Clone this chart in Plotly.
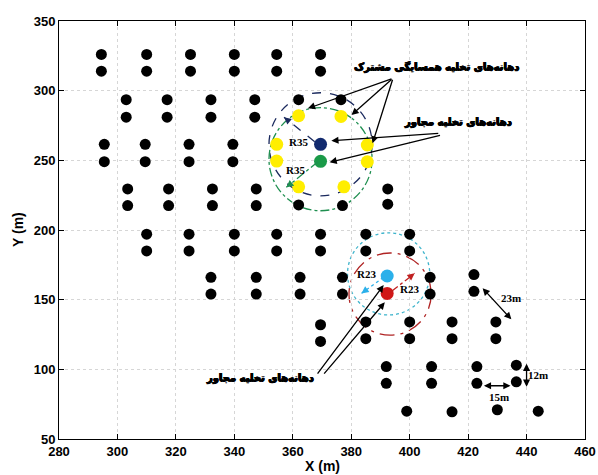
import math
import plotly.graph_objects as go

# ---- layout constants ----
W, H = 598, 475
ML, MR, MT, MB = 59, 13, 21, 36
X_RANGE = [280, 460]
Y_RANGE = [50, 350]
PX_X = (W - ML - MR) / (X_RANGE[1] - X_RANGE[0])   # pixels per metre, x
PX_Y = (H - MT - MB) / (Y_RANGE[1] - Y_RANGE[0])   # pixels per metre, y
ASPECT = PX_Y / PX_X

# ---- drain holes (black) ----
holes_x = [
    294.5, 294.5, 310, 310, 325, 325, 340, 340, 354.5, 354.5, 369.5, 369.5,
    303, 303, 317, 317, 332, 332, 347, 347, 362, 376.5,
    295.5, 295.5, 309.5, 309.5, 324.5, 324.5, 339.5, 339.5,
    303.5, 303.5, 317.5, 317.5, 332.5, 332.5, 347.5, 347.5, 362, 377, 392.5, 392.5,
    310, 310, 324.5, 324.5, 340, 340, 354.5, 354.5, 369.5, 369.5, 385, 385, 400, 400,
    332, 332, 347.5, 347.5, 362.5, 362.5, 377, 377, 407, 407, 422, 422,
    369.5, 369.5, 385, 385, 400, 400, 414.5, 414.5, 429.5, 429.5,
    392, 392, 407.5, 407.5, 423, 423, 436.5, 436.5,
    399, 414.5, 430, 444,
]
holes_y = [
    326, 314, 326, 314, 326, 314, 326, 314, 326, 314, 326, 314,
    293.5, 281, 293.5, 281, 293.5, 281, 293.5, 281, 293.5, 293.5,
    261.5, 249, 261.5, 249, 261.5, 249, 261.5, 249,
    229.5, 217.5, 229.5, 217.5, 229.5, 217.5, 229.5, 217.5, 218, 217.5, 229.5, 218.5,
    197, 185, 197, 185, 197, 185, 197, 185, 197, 185, 197, 185, 197, 185,
    166, 154, 166, 154, 166, 154, 166, 154, 166, 154, 168, 156,
    132, 120, 134, 122, 134, 122, 134, 122, 134, 122,
    102, 90, 102, 90, 102, 90, 103, 91,
    70, 69.5, 71, 70,
]

# shared-neighbourhood holes (yellow)
shared_x = [362, 376.5, 354.5, 354.5, 385.5, 385.5, 362, 377.5]
shared_y = [282, 281.5, 261.5, 249.5, 261, 249, 231, 231]

# focus holes of the two clusters
blue_hole = (369.5, 261.5)
green_hole = (369.5, 249.3)
cyan_hole = (392.3, 167)
red_hole = (392.3, 154.5)

# influence radii (m, vertical scale)
R_UPPER = 37
R_LOWER = 29.5

LBL_SHARED = "دهانه\u200cهای تخلیه همسایگی مشترک"
LBL_ADJ = "دهانه\u200cهای تخلیه مجاور"

fig = go.Figure()

fig.add_trace(go.Scatter(x=holes_x, y=holes_y, mode="markers",
                         marker=dict(size=11, color="black"), hoverinfo="skip"))
fig.add_trace(go.Scatter(x=shared_x, y=shared_y, mode="markers",
                         marker=dict(size=13, color="#ffee00"), hoverinfo="skip"))
for (hx, hy), col in [(blue_hole, "#122a6e"), (green_hole, "#1a9a48"),
                      (cyan_hole, "#2bb0ea"), (red_hole, "#d01818")]:
    fig.add_trace(go.Scatter(x=[hx], y=[hy], mode="markers",
                             marker=dict(size=13, color=col), hoverinfo="skip"))

# influence circles
def circle(center, r, color, dash):
    cx, cy = center
    rx = r * ASPECT
    fig.add_shape(type="circle", xref="x", yref="y",
                  x0=cx - rx, x1=cx + rx, y0=cy - r, y1=cy + r,
                  line=dict(color=color, width=1.3, dash=dash), layer="below")

circle(blue_hole, R_UPPER, "#1b2a5e", "dash")
circle((green_hole[0], green_hole[1] + 1.5), R_UPPER, "#1f8f50", "dashdot")
circle((cyan_hole[0] + 0.5, cyan_hole[1] + 1.5), R_LOWER, "#3fb4cc", "dot")
circle((red_hole[0] + 1.0, red_hole[1] - 0.5), R_LOWER, "#b02424", "longdashdot")

# radius arrows: styled shaft plus an arrowhead
def radius_arrow(tail, head, color, dash):
    fig.add_shape(type="line", xref="x", yref="y",
                  x0=tail[0], y0=tail[1], x1=head[0], y1=head[1],
                  line=dict(color=color, width=1.3, dash=dash))
    dxp = (head[0] - tail[0]) * PX_X
    dyp = -(head[1] - tail[1]) * PX_Y
    n = math.hypot(dxp, dyp)
    fig.add_annotation(x=head[0], y=head[1], ax=-dxp / n * 6, ay=-dyp / n * 6,
                       text="", showarrow=True, arrowhead=2, arrowsize=1.1,
                       arrowwidth=1.3, arrowcolor=color)

radius_arrow((367.5, 263.4), (357.0, 280.9), "#1b2a5e", "dash")
radius_arrow((368.6, 249.0), (357.8, 230.6), "#1f8f50", "dashdot")
radius_arrow((391.0, 166.0), (383.5, 154.5), "#2bb0ea", "dot")
radius_arrow((393.5, 155.5), (401.7, 168.9), "#c02020", "dashdot")

# pointer arrows from the labels
def pointer(tail, head):
    fig.add_annotation(x=head[0], y=head[1], ax=tail[0], ay=tail[1],
                       axref="x", ayref="y", xref="x", yref="y", text="",
                       showarrow=True, arrowhead=2, arrowsize=1.1,
                       arrowwidth=1.3, arrowcolor="black")

for head in [(365.2, 287.3), (380.1, 282.5), (387.3, 262.2)]:
    pointer((394.3, 308.9), head)
pointer((410.3, 269.4), (373.2, 264.1))
pointer((410.9, 268.2), (372.6, 248.6))
pointer((368.1, 95.9), (391.1, 160.5))
pointer((370.3, 95.9), (391.5, 148.1))

# spacing dimensions
def dimension(p0, p1):
    fig.add_annotation(x=p1[0], y=p1[1], ax=p0[0], ay=p0[1],
                       axref="x", ayref="y", xref="x", yref="y", text="",
                       showarrow=True, arrowhead=2, startarrowhead=2,
                       arrowside="end+start", arrowsize=1.1, startarrowsize=1.1,
                       arrowwidth=1.3, arrowcolor="black")

dimension((424.5, 159.3), (434.8, 135.9))
dimension((424.9, 88.2), (434.5, 88.2))
dimension((440.0, 105.0), (440.0, 87.5))

HEAVY = "0.6px 0 0 black, -0.6px 0 0 black, 0 0.5px 0 black, 0 -0.3px 0 black"

def label(x, y, text, size, family, bold=True, shadow="none", xanchor="center"):
    fig.add_annotation(x=x, y=y, xref="x", yref="y", text=text, showarrow=False,
                       xanchor=xanchor, yanchor="middle",
                       font=dict(size=size, family=family, color="black",
                                 weight="bold" if bold else "normal",
                                 shadow=shadow))

serif = "Liberation Serif"
label(361.9, 263.4, "R35", 11, serif)
label(360.9, 243.0, "R35", 11, serif)
label(385.2, 168.4, "R23", 11, serif)
label(400.0, 157.4, "R23", 11, serif)
label(434.6, 150.9, "23m", 11, serif)
label(430.5, 79.9, "15m", 11, serif)
label(444.0, 95.9, "12m", 11, serif)

persian = "DejaVu Sans"
label(409.1, 317.2, LBL_SHARED, 10, persian, shadow=HEAVY)
label(416.6, 277.7, LBL_ADJ, 10, persian, shadow=HEAVY)
label(348.7, 93.7, LBL_ADJ, 10, persian, shadow=HEAVY)

# axis titles
fig.add_annotation(x=0.5, y=-(466 - (H - MB)) / (H - MT - MB), xref="paper", yref="paper",
                   text="X (m)", showarrow=False, yanchor="middle",
                   font=dict(size=14, family="Liberation Sans", color="black", weight="bold"))
fig.add_annotation(x=-(ML - 18) / (W - ML - MR), y=((H - MB) - 230) / (H - MT - MB),
                   xref="paper", yref="paper", text="Y (m)", showarrow=False,
                   textangle=-90, xanchor="center", yanchor="middle",
                   font=dict(size=14, family="Liberation Sans", color="black", weight="bold"))

axis_common = dict(
    showline=True, linecolor="black", linewidth=1, mirror="ticks",
    ticks="inside", ticklen=5, tickcolor="black",
    showgrid=True, gridcolor="#d6d6d6", griddash="dot", gridwidth=1,
    zeroline=False, automargin=False,
    tickfont=dict(size=13, family="Liberation Sans", color="black", weight="bold"),
)

fig.update_layout(
    width=W, height=H,
    margin=dict(l=ML, r=MR, t=MT, b=MB),
    paper_bgcolor="white", plot_bgcolor="white",
    showlegend=False,
    xaxis=dict(range=X_RANGE, dtick=20, tick0=280, **axis_common),
    yaxis=dict(range=Y_RANGE, dtick=50, tick0=50, **axis_common),
)

fig.write_html("out.html")
